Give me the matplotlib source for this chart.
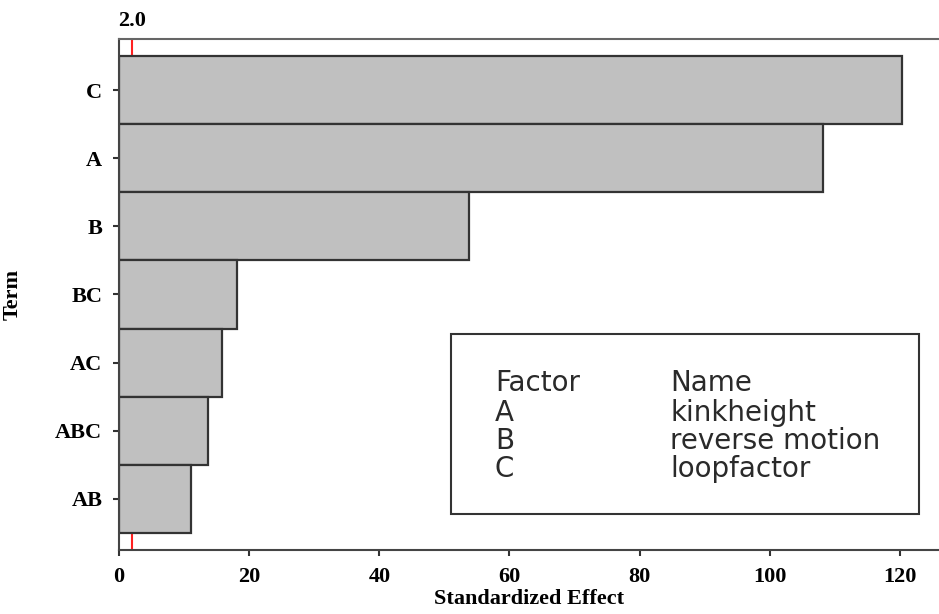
import matplotlib
matplotlib.use("Agg")
import matplotlib.pyplot as plt
from matplotlib.patches import Rectangle
import matplotlib.transforms as mtransforms

terms = ["C", "A", "B", "BC", "AC", "ABC", "AB"]
effects = [120.3, 108.1, 53.8, 18.1, 15.8, 13.7, 11.1]
ref_value = 2.0
xticks = [0, 20, 40, 60, 80, 100, 120]
factor_letters = ["A", "B", "C"]
factor_names = ["kinkheight", "reverse motion", "loopfactor"]

fig = plt.figure(figsize=(9.39, 6.14), dpi=100)
ax = fig.add_axes([119/939, 1-550/614, 1-119/939, (550-39)/614])

serif = "Liberation Serif"
ypos = list(range(len(terms)))
ax.barh(ypos, effects, height=1.0, color="#c0c0c0", edgecolor="#333333", linewidth=1.6, zorder=2)
ax.axvline(ref_value, color="#ff2020", lw=1.5, zorder=1)

ax.set_ylim(len(terms) - 0.25, -0.75)
ax.set_xlim(0, 126)
ax.set_yticks(ypos)
ax.set_yticklabels(terms, fontfamily=serif, fontweight="bold", fontsize=16)
ax.set_xticks(xticks)
ax.set_xticklabels([str(t) for t in xticks], fontfamily=serif, fontweight="bold", fontsize=16)
ax.tick_params(axis="both", direction="out", length=4, width=1.5, color="#333333", pad=8)
for s in ["left", "bottom", "top"]:
    ax.spines[s].set_color("#444444")
    ax.spines[s].set_linewidth(1.5)
ax.spines["top"].set_color("#666666")
ax.spines["right"].set_visible(False)

ax.set_xlabel("Standardized Effect", fontfamily=serif, fontweight="bold", fontsize=16, labelpad=2)
ax.set_ylabel("Term", fontfamily=serif, fontweight="bold", fontsize=16)
ax.yaxis.set_label_coords(-0.118, 0.5)

trans = mtransforms.blended_transform_factory(ax.transData, ax.transAxes)
ax.text(ref_value, 1.015, "2.0", transform=trans, ha="center", va="bottom",
        fontfamily=serif, fontweight="bold", fontsize=16)

# legend box
ax.add_patch(Rectangle((0.405, 0.0705), 0.5706, 0.3522, transform=ax.transAxes,
                       facecolor="white", edgecolor="#333333", lw=1.5, zorder=3))
rows_y = [0.3268, 0.2681, 0.2133, 0.1585]
col1 = ["Factor"] + factor_letters
col2 = ["Name"] + factor_names
for yy, a, b in zip(rows_y, col1, col2):
    ax.text(0.4585, yy, a, transform=ax.transAxes, ha="left", va="center",
            fontfamily="DejaVu Sans", fontsize=20, color="#2a2a2a", zorder=4)
    ax.text(0.672, yy, b, transform=ax.transAxes, ha="left", va="center",
            fontfamily="DejaVu Sans", fontsize=20, color="#2a2a2a", zorder=4)

fig.savefig("out.png", dpi=100)
